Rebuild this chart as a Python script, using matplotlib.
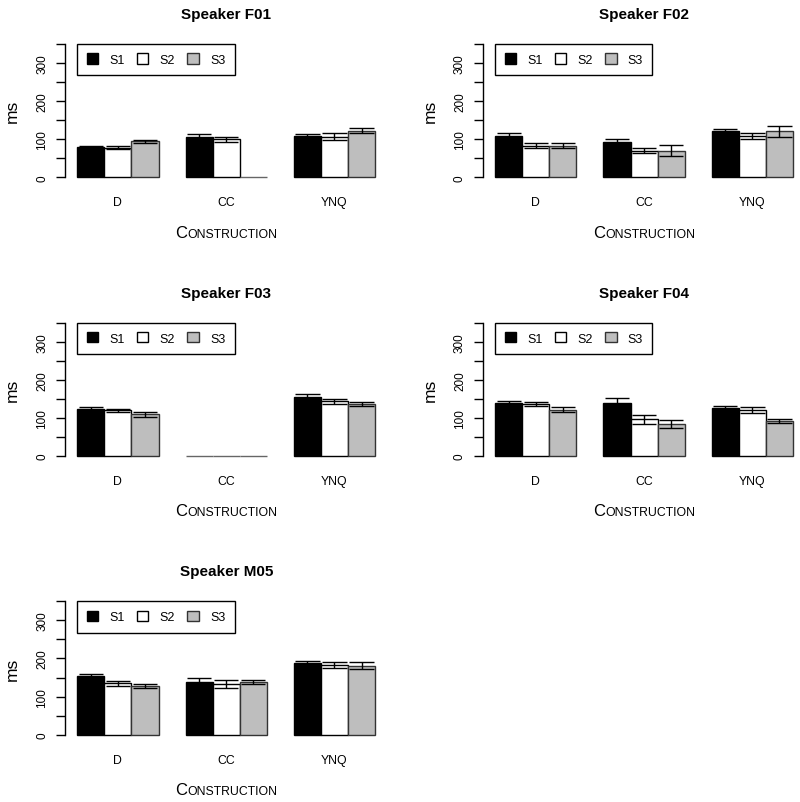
import matplotlib
matplotlib.use('Agg')
import matplotlib.pyplot as plt
from matplotlib.offsetbox import TextArea, HPacker, AnchoredOffsetbox

plt.rcParams['font.family'] = ['Liberation Sans', 'DejaVu Sans']

speakers = ['F01', 'F02', 'F03', 'F04', 'M05']
constructions = ['D', 'CC', 'YNQ']
sessions = ['S1', 'S2', 'S3']

# rows: D, CC, YNQ ; columns: S1, S2, S3 (0 = no data)
f01_mean = [[80, 78, 95], [107, 100, 0], [109, 107, 122]]
f01_se = [[2, 5, 4], [7, 7, 0], [4, 10, 7]]
f02_mean = [[108, 83, 83], [92, 70, 70], [121, 109, 121]]
f02_se = [[7, 6, 7], [9, 7, 15], [6, 8, 14]]
f03_mean = [[124, 120, 110], [0, 0, 0], [155, 144, 136]]
f03_se = [[3.5, 4.5, 6.5], [0, 0, 0], [7, 7, 5]]
f04_mean = [[139, 136, 122], [138, 96, 85], [126, 120, 92]]
f04_se = [[5, 5, 6], [14, 13, 10.5], [6, 8, 4]]
m05_mean = [[154, 135, 128], [138, 132, 138], [188, 182, 181]]
m05_se = [[4, 6, 5], [11, 10.5, 6], [6, 7.5, 9]]

means = [f01_mean, f02_mean, f03_mean, f04_mean, m05_mean]
ses = [f01_se, f02_se, f03_se, f04_se, m05_se]

fills = ['black', 'white', '#bebebe']
edges = ['black', 'black', '#333333']

W, H = 800, 803
fig = plt.figure(figsize=(W / 100, H / 100), dpi=100)

col_x = [65.4, 483.3]
row_top = [39.6, 318.4, 597.0]
ax_w, ax_h = 321.6, 144.0


def panel(idx, mean, se):
    r, c = divmod(idx, 2)
    x0, y0 = col_x[c], row_top[r]
    ax = fig.add_axes([x0 / W, 1 - (y0 + ax_h) / H, ax_w / W, ax_h / H])

    for g in range(len(constructions)):
        for s in range(len(sessions)):
            x = 1 + 4 * g + s + 0.5
            m = mean[g][s]
            e = se[g][s]
            ec = edges[s] if m > 0 else '#666666'
            ax.bar(x, m, width=1, color=fills[s], edgecolor=ec, linewidth=1.0, zorder=2)
            if m > 0 and e > 0:
                ax.vlines(x, m - e, m + e, color='black', lw=1.0, zorder=3)
                ax.hlines([m - e, m + e], x - 0.45, x + 0.45, color='black', lw=1.0, zorder=3)

    ax.set_xlim(1 - 0.44, 12 + 0.44)
    ax.set_ylim(-14, 364)
    for side in ['top', 'right', 'bottom']:
        ax.spines[side].set_visible(False)
    ax.spines['left'].set_bounds(0, 350)
    ax.spines['left'].set_linewidth(1.0)

    ax.set_yticks(range(0, 351, 50))
    ax.set_yticklabels([str(v) if v % 100 == 0 and v < 350 else '' for v in range(0, 351, 50)],
                       rotation=90, va='center', fontsize=8.5)
    ax.tick_params(axis='y', length=6.5, width=1.0, pad=6)
    ax.set_xticks([2.5, 6.5, 10.5])
    ax.set_xticklabels(constructions, fontsize=8.8)
    ax.tick_params(axis='x', length=0, pad=10)

    ax.set_title('Speaker ' + speakers[idx], fontsize=11, fontweight='bold', pad=15)
    ax.text(-53 / ax_w, 0.5, 'ms', transform=ax.transAxes, rotation=90,
            ha='center', va='center', fontsize=12.5)

    big = TextArea('C', textprops=dict(fontsize=12))
    small = TextArea('ONSTRUCTION', textprops=dict(fontsize=8.8))
    box = HPacker(children=[big, small], align='baseline', pad=0, sep=0)
    ab = AnchoredOffsetbox(loc='center', child=box, pad=0, borderpad=0, frameon=False,
                           bbox_to_anchor=(0.5, -49.5 / ax_h), bbox_transform=ax.transAxes)
    ax.add_artist(ab)

    handles = [plt.Rectangle((0, 0), 1, 1, facecolor=fills[s], edgecolor=edges[s], lw=1.0)
               for s in range(len(sessions))]
    leg = ax.legend(handles, sessions, loc='upper left', bbox_to_anchor=(1, 350),
                    bbox_transform=ax.transData, borderaxespad=0, ncol=3, fontsize=9,
                    handlelength=0.9, handleheight=0.9, handletextpad=0.9,
                    columnspacing=1.0, borderpad=0.75, fancybox=False, framealpha=1)
    leg.get_frame().set_edgecolor('black')
    leg.get_frame().set_linewidth(1.0)


for i in range(len(speakers)):
    panel(i, means[i], ses[i])

fig.savefig('out.png', dpi=100)
